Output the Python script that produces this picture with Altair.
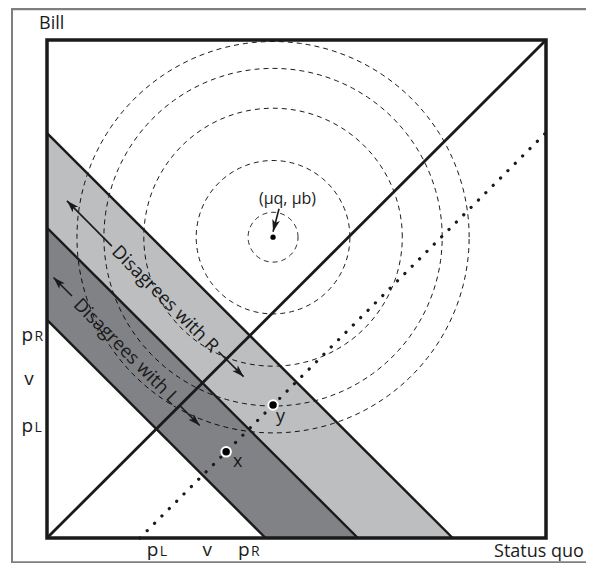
import altair as alt
import pandas as pd
import numpy as np

# ---------------- values (both axes 0..100) ----------------
tick_main = ["p", "v", "p"]
tick_sub = ["L", "", "R"]
tick_vals = [22.3, 31.7, 40.6]            # p_L, v, p_R on both axes

band_sums = [43.8, 62.3, 81.3]            # boundaries x + y = const
band_labels = ["Disagrees with L", "Disagrees with R"]
band_colors = ["#808285", "#bcbec0"]
band_text_x = [15.9, 23.7]
band_text_y = [37.5, 48.0]

mu_x, mu_y = 45.3, 60.4
circle_radii = [5.0, 15.4, 25.9, 33.9, 39.3]

dotted_offset = 18.6                       # dotted line: y = x - offset

point_names = ["x", "y"]
point_x = [35.9, 45.3]
point_y = [17.3, 26.7]
point_label_x = [38.2, 46.8]
point_label_y = [15.2, 24.2]

# arrows (tail -> tip)
arrow_x1 = [5.0, 26.6, 13.0, 34.4, 46.5]
arrow_y1 = [48.6, 26.6, 58.6, 37.4, 66.1]
arrow_x2 = [1.3, 30.6, 4.0, 39.4, 45.3]
arrow_y2 = [52.3, 22.6, 67.7, 32.4, 61.5]

FONT = "Open Sans"

# ---------------- helpers ----------------
XS = alt.Scale(domain=[0, 100], nice=False, zero=False)
YS = alt.Scale(domain=[0, 100], nice=False, zero=False)


def X(f="x"):
    return alt.X(f"{f}:Q", scale=XS, axis=None)


def Y(f="y"):
    return alt.Y(f"{f}:Q", scale=YS, axis=None)


# ---------------- frame ----------------
dummy = pd.DataFrame({"a": [0]})
frame_left = alt.Chart(dummy).mark_rule(color="black", strokeWidth=1).encode(
    x=alt.value(-35), y=alt.value(-32), y2=alt.value(523))
frame_top = alt.Chart(dummy).mark_rule(color="#7f7f7f", strokeWidth=2.5).encode(
    x=alt.value(-35), x2=alt.value(540), y=alt.value(-31))
frame_bottom = alt.Chart(dummy).mark_rule(color="#7f7f7f", strokeWidth=2.5).encode(
    x=alt.value(-35), x2=alt.value(540), y=alt.value(522.5))

# ---------------- bands ----------------
b0, b1, b2 = band_sums
dark_df = pd.DataFrame({"x": [0, b0, b1], "y": [b1, b1 - b0, 0], "y2": [b0, 0, 0]})
light_df = pd.DataFrame({"x": [0, b1, b2], "y": [b2, b2 - b1, 0], "y2": [b1, 0, 0]})
dark = alt.Chart(dark_df).mark_area(color=band_colors[0], opacity=1).encode(
    x=X(), y=Y(), y2="y2:Q")
light = alt.Chart(light_df).mark_area(color=band_colors[1], opacity=1).encode(
    x=X(), y=Y(), y2="y2:Q")

# ---------------- circles ----------------
rows = []
theta = np.deg2rad(np.arange(0, 361, 2))
for i, r in enumerate(circle_radii):
    for k, t in enumerate(theta):
        rows.append({"c": i, "k": k, "x": mu_x + r * np.cos(t), "y": mu_y + r * np.sin(t)})
circ_df = pd.DataFrame(rows)
circles = alt.Chart(circ_df).mark_line(color="black", strokeWidth=0.9, strokeDash=[5, 4]).encode(
    x=X(), y=Y(), detail="c:N", order="k:Q")
mu_dot = alt.Chart(pd.DataFrame({"x": [mu_x], "y": [mu_y]})).mark_point(
    filled=True, color="black", size=28, opacity=1).encode(x=X(), y=Y())

# ---------------- lines ----------------
bound_df = pd.DataFrame({"x": [0.0] * 3, "y": band_sums, "x2": band_sums, "y2": [0.0] * 3})
bounds = alt.Chart(bound_df).mark_rule(color="#1a1a1a", strokeWidth=2.4).encode(
    x=X(), y=Y(), x2="x2:Q", y2="y2:Q")
diag = alt.Chart(pd.DataFrame({"x": [0], "y": [0], "x2": [100], "y2": [100]})).mark_rule(
    color="#1a1a1a", strokeWidth=2.8).encode(x=X(), y=Y(), x2="x2:Q", y2="y2:Q")
dotted = alt.Chart(pd.DataFrame({"x": [dotted_offset], "y": [0], "x2": [100],
                                 "y2": [100 - dotted_offset]})).mark_rule(
    color="#1a1a1a", strokeWidth=3.2, strokeDash=[0.1, 10.3], strokeCap="round").encode(
    x=X(), y=Y(), x2="x2:Q", y2="y2:Q")
square = alt.Chart(pd.DataFrame({"x": [0], "y": [0], "x2": [100], "y2": [100]})).mark_rect(
    fillOpacity=0, stroke="#1a1a1a", strokeWidth=3.5).encode(x=X(), y=Y(), x2="x2:Q", y2="y2:Q")

# ---------------- arrows ----------------
arr_df = pd.DataFrame({"x": arrow_x1, "y": arrow_y1, "x2": arrow_x2, "y2": arrow_y2})
arr_df["ang"] = (np.degrees(np.arctan2(arr_df["x2"] - arr_df["x"], arr_df["y2"] - arr_df["y"])) + 360) % 360
shafts = alt.Chart(arr_df).mark_rule(color="#1a1a1a", strokeWidth=1.6).encode(
    x=X(), y=Y(), x2="x2:Q", y2="y2:Q")
heads = alt.Chart(arr_df).mark_point(
    shape="M0,0 L0.55,1.7 L0,1.3 L-0.55,1.7 Z", filled=True, color="#1a1a1a", size=200, opacity=1
).encode(x=X("x2"), y=Y("y2"), angle=alt.Angle("ang:Q", scale=None))

# ---------------- texts ----------------
band_txt = alt.Chart(pd.DataFrame({"x": band_text_x, "y": band_text_y, "t": band_labels})).mark_text(
    font=FONT, fontSize=18.5, angle=45, align="center", baseline="middle", color="#1a1a1a").encode(
    x=X(), y=Y(), text="t:N")

pts = alt.Chart(pd.DataFrame({"x": point_x, "y": point_y})).mark_point(
    filled=True, color="black", size=90, stroke="white", strokeWidth=2, opacity=1).encode(x=X(), y=Y())
pts_lbl = alt.Chart(pd.DataFrame({"x": point_label_x, "y": point_label_y, "t": point_names})).mark_text(
    font=FONT, fontSize=18, align="center", baseline="middle", color="#1a1a1a").encode(
    x=X(), y=Y(), text="t:N")

mu_lbl = alt.Chart(pd.DataFrame({"x": [48.2], "y": [67.0], "t": ["(μq, μb)"]})).mark_text(
    font=FONT, fontSize=16, align="center", baseline="alphabetic", color="#1a1a1a").encode(
    x=X(), y=Y(), text="t:N")

ax_y_pos = -3.7     # axis label row below the square (data units)
ax_x_pos = -2.8     # axis label column left of the square

xt = pd.DataFrame({"x": tick_vals, "y": [ax_y_pos] * 3, "m": tick_main, "s": tick_sub})
yt = pd.DataFrame({"x": [ax_x_pos] * 3, "y": tick_vals, "m": tick_main, "s": tick_sub})


def tick_layers(df, dy, vdx):
    p_only = df[df["m"] == "p"]
    v_only = df[df["m"] == "v"]
    a = alt.Chart(p_only).mark_text(font=FONT, fontSize=19, align="right", baseline="alphabetic",
                                    dy=dy, color="#1a1a1a").encode(x=X(), y=Y(), text="m:N")
    b = alt.Chart(p_only).mark_text(font=FONT, fontSize=14, align="left", baseline="alphabetic",
                                    dy=dy, dx=1.5, color="#1a1a1a").encode(x=X(), y=Y(), text="s:N")
    c = alt.Chart(v_only).mark_text(font=FONT, fontSize=19, align="center", baseline="alphabetic",
                                    dy=dy, dx=vdx, color="#1a1a1a").encode(x=X(), y=Y(), text="m:N")
    return [a, b, c]


x_ticks = tick_layers(xt, 0, 2)
y_ticks = tick_layers(yt, 5, -4)

bill = alt.Chart(pd.DataFrame({"x": [-1.6], "y": [102.2], "t": ["Bill"]})).mark_text(
    font=FONT, fontSize=18, align="left", baseline="alphabetic", color="#1a1a1a").encode(
    x=X(), y=Y(), text="t:N")
sq = alt.Chart(pd.DataFrame({"x": [107.6], "y": [-3.9], "t": ["Status quo"]})).mark_text(
    font=FONT, fontSize=18, align="right", baseline="alphabetic", color="#1a1a1a").encode(
    x=X(), y=Y(), text="t:N")

chart = alt.layer(
    frame_left, frame_top, frame_bottom,
    light, dark, circles, mu_dot, bounds, diag, dotted, square,
    shafts, heads, band_txt, pts, pts_lbl, mu_lbl, *x_ticks, *y_ticks, bill, sq
).properties(
    width=499, height=498,
    padding={"left": 39, "top": 32, "right": 40, "bottom": 25},
    autosize=alt.AutoSizeParams(type="none"),
).configure_view(strokeWidth=0)

chart.save("out.html", embed_options={"renderer": "svg", "actions": False})
